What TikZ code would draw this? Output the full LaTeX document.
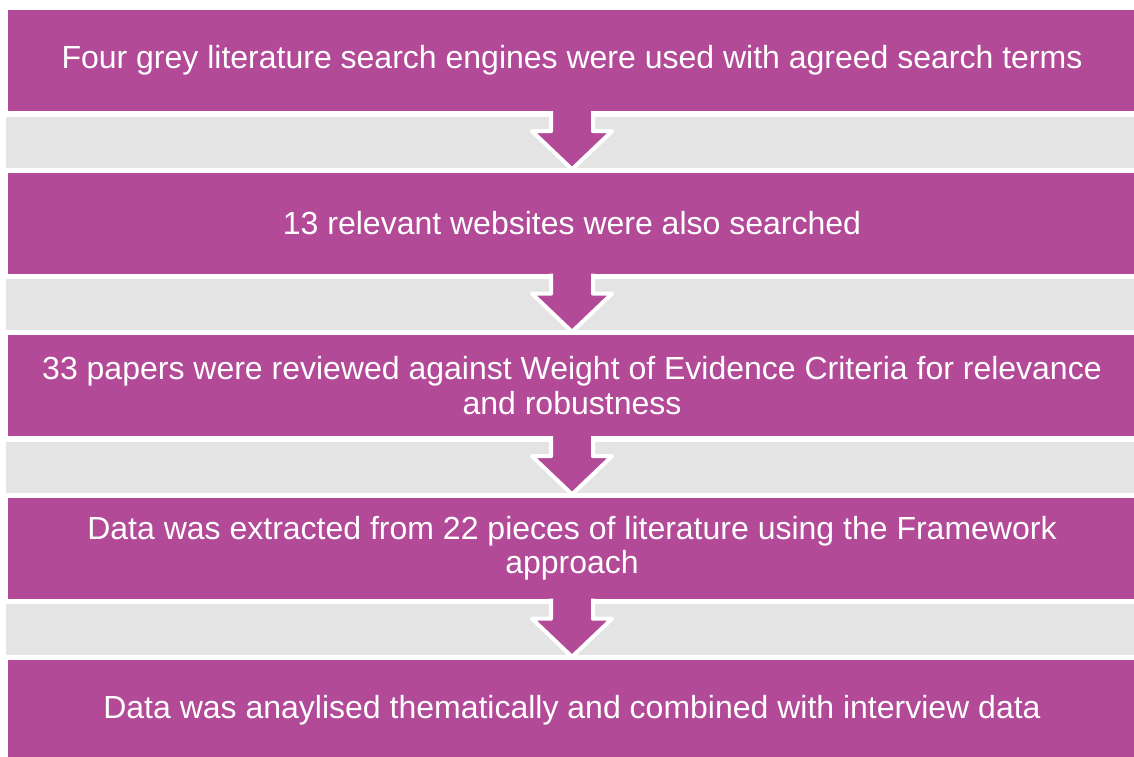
\documentclass[tikz,border=0pt]{standalone}
\usepackage{fontspec}
\setmainfont{Liberation Sans}
\usetikzlibrary{calc}
\definecolor{stepPurple}{RGB}{178,74,152}
\definecolor{bandGrey}{RGB}{228,228,228}
\begin{document}
\begin{tikzpicture}[x=1pt,y=-1pt,
  stepbox/.style={fill=stepPurple, draw=none, minimum width=1128pt, minimum height=101pt,
    inner sep=0pt, text=white, align=center,
    font=\fontsize{32}{34.5}\selectfont},
  band/.style={fill=bandGrey, draw=none, minimum width=1134pt, minimum height=51pt, inner sep=0pt},
  flowarrow/.style={fill=stepPurple, draw=white, line width=4pt, line join=round}]
  \useasboundingbox (0,0) rectangle (1134,756);
  \clip (0,0) rectangle (1134,756);

  % grey bands behind the arrows
  \foreach \y [count=\i] in {142,304.5,467,629.5} {
    \node[band] (g\i) at (573,\y) {};
  }

  % process steps
  \node[stepbox] (b1) at (572,60.5) {Four grey literature search engines were used with agreed search terms};
  \node[stepbox] (b2) at (572,223) {13 relevant websites were also searched};
  \node[stepbox] (b3) at (572,385.5) {33 papers were reviewed against Weight of Evidence Criteria for relevance\\and robustness};
  \node[stepbox] (b4) at (572,548) {Data was extracted from 22 pieces of literature using the Framework\\approach};
  \node[stepbox] (b5) at (572,710.5) {Data was anaylised thematically and combined with interview data};

  % block arrows between consecutive steps (open at the top so the shaft joins the box)
  \foreach \a/\b in {b1/b2,b2/b3,b3/b4,b4/b5} {
    \filldraw[flowarrow]
      ($(\a.south)+(-21,0)$) -- ($(\a.south)+(-21,20)$) -- ($(\a.south)+(-40,20)$)
      -- ($(\b.north)+(0,-3)$)
      -- ($(\a.south)+(40,20)$) -- ($(\a.south)+(21,20)$) -- ($(\a.south)+(21,0)$);
  }
\end{tikzpicture}
\end{document}
